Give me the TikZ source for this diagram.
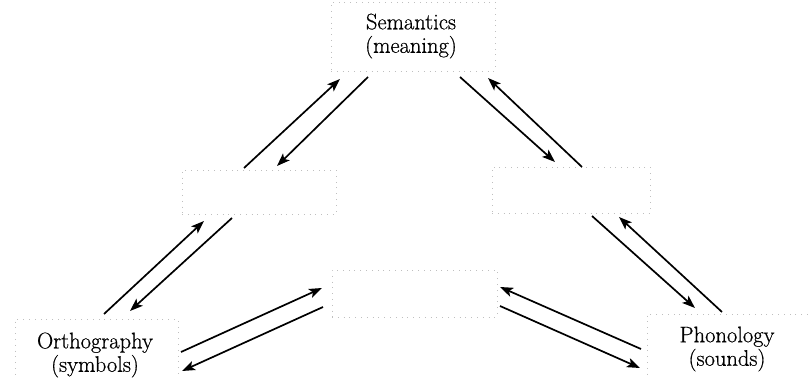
\documentclass[tikz,border=0pt]{standalone}
\usepackage{fontspec}
\setmainfont{Latin Modern Roman}[FakeBold=0.6]
\usetikzlibrary{arrows.meta,calc}
\begin{document}
\begin{tikzpicture}[x=1pt,y=-1pt,
  hiddenbox/.style={draw=gray!50, line width=0.5pt, dash pattern=on 0.8pt off 5pt, inner sep=0pt},
  label/.style={align=center, inner sep=0pt, font=\fontsize{22.5}{23.5}\selectfont},
  arr/.style={line width=1.7pt, -{Stealth[length=13pt,width=9.5pt,inset=3pt]}}]
\useasboundingbox (0,0) rectangle (808,379);
% dotted boxes
\node[hiddenbox, minimum width=164pt, minimum height=69pt] (sem) at (413,36.5) {};
\node[hiddenbox, minimum width=154pt, minimum height=44pt] (lm) at (259,192) {};
\node[hiddenbox, minimum width=165pt, minimum height=47pt] (ctr) at (414.5,293.5) {};
\node[hiddenbox, minimum width=158pt, minimum height=46pt] (rm) at (571,190) {};
\node[hiddenbox, minimum width=163pt, minimum height=60pt] (ort) at (96.5,349) {};
\node[hiddenbox, minimum width=161pt, minimum height=65pt] (pho) at (727.5,346.5) {};
% labels
\node[label] (semt) at (411,36) {Semantics\\(meaning)};
\node[label] (ortt) at (95,355) {Orthography\\(symbols)};
\node[label] (phot) at (727,349) {Phonology\\(sounds)};
% arrows
\draw[arr] ($(lm)+(-15,-24)$) -- ($(sem)+(-73,42.5)$);
\draw[arr] ($(sem)+(-45,40.5)$) -- ($(lm)+(18,-26)$);
\draw[arr] ($(sem)+(47,40.5)$) -- ($(rm)+(-16,-28)$);
\draw[arr] ($(rm)+(11,-23)$) -- ($(sem)+(75,41.5)$);
\draw[arr] ($(ort)+(7.5,-35)$) -- ($(lm)+(-55,29)$);
\draw[arr] ($(lm)+(-27,26)$) -- ($(ort)+(33.5,-38)$);
\draw[arr] ($(ort)+(84.5,3)$) -- ($(ctr)+(-92.5,-5.5)$);
\draw[arr] ($(ctr)+(-91.5,13.5)$) -- ($(ort)+(85.5,22)$);
\draw[arr] ($(pho)+(-86.5,2.5)$) -- ($(ctr)+(85.5,-6.5)$);
\draw[arr] ($(ctr)+(85.5,12.5)$) -- ($(pho)+(-87.5,21.5)$);
\draw[arr] ($(rm)+(21,26)$) -- ($(pho)+(-32.5,-38.5)$);
\draw[arr] ($(pho)+(-5.5,-34.5)$) -- ($(rm)+(48,27)$);
\end{tikzpicture}
\end{document}
